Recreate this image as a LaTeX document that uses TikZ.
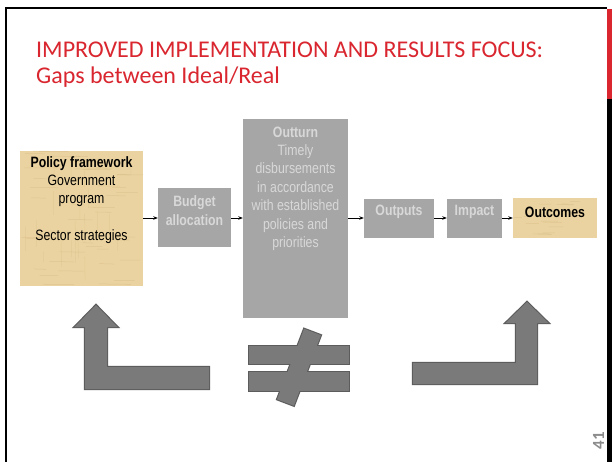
\documentclass[tikz,border=0pt]{standalone}
\usepackage{fontspec}
\setmainfont{Liberation Sans}
\newfontfamily\titlefont{Carlito}
\newfontfamily\narrowfont[FakeStretch=0.82]{Liberation Sans}
\usetikzlibrary{arrows.meta}
\definecolor{titlered}{RGB}{217,38,47}
\definecolor{boxgrey}{RGB}{166,166,166}
\definecolor{boxtext}{RGB}{216,216,216}
\definecolor{papyrus}{RGB}{234,211,160}
\definecolor{papyrusdark}{RGB}{200,170,115}
\definecolor{shapefill}{RGB}{122,122,122}
\definecolor{shapeline}{RGB}{92,92,92}
\definecolor{pagegrey}{RGB}{140,140,140}
\tikzset{
  greybox/.style={draw=none, fill=boxgrey, inner sep=0pt},
  tanbox/.style={draw=none, fill=papyrus, inner sep=0pt},
  boxtxt/.style={font=\narrowfont\fontsize{15}{18.4}\selectfont, align=center, inner sep=0pt},
  flow/.style={draw=black, line width=0.7pt, -{Stealth[length=4.5pt,width=3.5pt]}},
  bigshape/.style={fill=shapefill},
  bigoutline/.style={draw=shapeline, line width=2.2pt, line join=miter},
  fibre/.style={draw=papyrusdark, opacity=0.35, line width=0.5pt},
}
\begin{document}
\begin{tikzpicture}[x=1pt,y=-1pt]
\useasboundingbox (0,0) rectangle (612,462);
\fill[white] (0,0) rectangle (612,462);
% frame
\fill[black] (5,7.5) rectangle (607,9.5);
\fill[black] (4.5,7.5) rectangle (7,462);
\fill[titlered] (607,9.5) rectangle (612,99);
\fill[black] (607,99) rectangle (612,462);
% title
\node[anchor=west, inner sep=0pt, text=titlered, font=\titlefont\fontsize{24}{28}\selectfont] (title1) at (36,50) {IMPROVED IMPLEMENTATION AND RESULTS FOCUS:};
\node[anchor=west, inner sep=0pt, text=titlered, font=\titlefont\fontsize{24}{28}\selectfont] (title2) at (36,77) {Gaps between Ideal/Real};
% boxes
\node[tanbox, minimum width=123pt, minimum height=135pt] (policy) at (81.5,218.5) {};
\node[tanbox, minimum width=84pt, minimum height=40pt] (outcomes) at (555,218) {};
% papyrus fibres
\pgfmathsetseed{7}
\foreach \i in {1,...,45}{
  \pgfmathsetmacro{\yy}{151+135*rnd}
  \pgfmathsetmacro{\xa}{20+100*rnd}
  \draw[fibre] (\xa,\yy) -- ({min(\xa+10+25*rnd,143)},\yy+0.5*rnd);
}
\foreach \i in {1,...,20}{
  \pgfmathsetmacro{\xx}{20+123*rnd}
  \pgfmathsetmacro{\ya}{151+110*rnd}
  \draw[fibre, opacity=0.2] (\xx,\ya) -- (\xx+0.5*rnd,{min(\ya+10+20*rnd,286)});
}
\foreach \i in {1,...,16}{
  \pgfmathsetmacro{\yy}{198+40*rnd}
  \pgfmathsetmacro{\xa}{513+65*rnd}
  \draw[fibre] (\xa,\yy) -- ({min(\xa+6+14*rnd,597)},\yy+0.5*rnd);
}
\node[boxtxt, anchor=north] (policyt) at (81.5,156) {\textbf{Policy framework}\\Government\\program\\[18.4pt]Sector strategies};
\node[boxtxt, font=\narrowfont\bfseries\fontsize{15}{18}\selectfont] (outcomest) at (555,212) {Outcomes};
\node[greybox, minimum width=73pt, minimum height=59pt] (budget) at (194.5,217.5) {};
\node[boxtxt, text=boxtext, font=\narrowfont\bfseries\fontsize{15}{18.6}\selectfont] (budgett) at (194.5,210.5) {Budget\\allocation};
\node[greybox, minimum width=105pt, minimum height=199pt] (outturn) at (295.5,218.5) {};
\node[boxtxt, text=boxtext, anchor=north] (outturnt) at (295.5,126.5) {\textbf{Outturn}\\Timely\\disbursements\\in accordance\\with established\\policies and\\priorities};
\node[greybox, minimum width=70pt, minimum height=39pt] (outputs) at (399,218.5) {};
\node[boxtxt, text=boxtext, font=\narrowfont\bfseries\fontsize{15}{18}\selectfont] (outputst) at (399,212) {Outputs};
\node[greybox, minimum width=55pt, minimum height=39pt] (impact) at (474.5,218.5) {};
\node[boxtxt, text=boxtext, font=\narrowfont\bfseries\fontsize{15}{18}\selectfont] (impactt) at (474.5,212) {Impact};
% connectors
\draw[flow] (policy.east |- 0,218) -- (budget.west |- 0,218);
\draw[flow] (budget.east |- 0,218) -- (outturn.west |- 0,218);
\draw[flow] (outturn.east |- 0,218) -- (outputs.west |- 0,218);
\draw[flow] (outputs.east |- 0,218) -- (impact.west |- 0,218);
\draw[flow] (impact.east |- 0,218) -- (outcomes.west |- 0,218);
% big shapes: outlines first, then fills (union look)
\def\leftarr{(96,305) -- (117.5,327) -- (107,327) -- (107,367) -- (209,367) -- (209,389) -- (85,389) -- (85,327) -- (74.5,327) -- cycle}
\def\rightarr{(527,302) -- (548.5,323) -- (537,323) -- (537,384) -- (413,384) -- (413,363) -- (516,363) -- (516,323) -- (505.5,323) -- cycle}
\def\barone{(249,346) rectangle (349,364)}
\def\bartwo{(249,372) rectangle (349,391)}
\def\slashshape{(304.1,328.8) -- (320.9,335.2) -- (293.9,405.7) -- (277.1,399.3) -- cycle}
\draw[bigoutline] \leftarr;
\draw[bigoutline] \rightarr;
\draw[bigoutline] \barone;
\draw[bigoutline] \bartwo;
\draw[bigoutline] \slashshape;
\fill[bigshape] \leftarr;
\fill[bigshape] \rightarr;
\fill[bigshape] \barone;
\fill[bigshape] \bartwo;
\fill[bigshape] \slashshape;
% page number
\node[rotate=90, inner sep=0pt, text=pagegrey, font=\titlefont\bfseries\fontsize{17}{20}\selectfont] (pagenum) at (598.5,440.5) {41};
\end{tikzpicture}
\end{document}
